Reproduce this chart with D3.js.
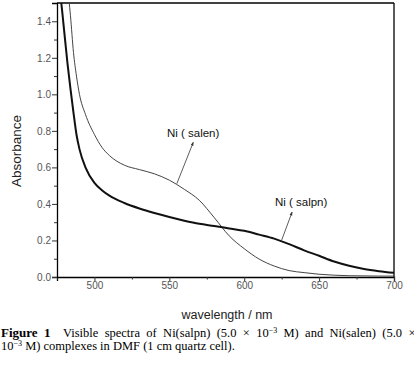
<!DOCTYPE html>
<html>
<head>
<meta charset="utf-8">
<script src="https://cdnjs.cloudflare.com/ajax/libs/d3/7.8.5/d3.min.js"></script>
<style>
  body { margin: 0; background: #fff; }
  svg { display: block; }
  .tick text { font-family: Arial, "Liberation Sans", sans-serif; font-size: 10px; fill: #555; }
</style>
</head>
<body>
<svg width="414" height="369"></svg>
<script>
// wavelength grid (nm)
const wavelength = [476, 478, 480, 482, 484, 486, 488, 490, 494, 500, 505, 510, 520, 530, 540, 550,
  560, 570, 580, 590, 600, 610, 620, 630, 640, 650, 660, 670, 680, 690, 700];
// Ni(salpn) absorbance, thick line
const salpn = [1.62, 1.49, 1.33, 1.17, 1.03, 0.90, 0.78, 0.70, 0.60, 0.515, 0.475, 0.445, 0.405, 0.375, 0.350, 0.328,
  0.308, 0.291, 0.279, 0.266, 0.253, 0.232, 0.210, 0.180, 0.146, 0.116, 0.085, 0.062, 0.044, 0.032, 0.023];
// Ni(salen) absorbance, thin line
const salen = [2.20, 2.00, 1.80, 1.60, 1.43, 1.23, 1.10, 1.00, 0.89, 0.78, 0.71, 0.665, 0.612, 0.588, 0.565, 0.530,
  0.480, 0.420, 0.325, 0.225, 0.155, 0.098, 0.060, 0.035, 0.024, 0.015, 0.010, 0.007, 0.006, 0.005, 0.005];

const xTicks = [500, 550, 600, 650, 700];
const xMinor = [475, 525, 575, 625, 675];
const yTicks = [0, 0.2, 0.4, 0.6, 0.8, 1.0, 1.2, 1.4];
const yMinor = [0.1, 0.3, 0.5, 0.7, 0.9, 1.1, 1.3];

// annotation text, where it sits, and its arrow (tip / end) in [nm, absorbance]
const labelNames = ['Ni ( salen)', 'Ni ( salpn)'];
const labelAt = [[548.4, 0.766], [620.5, 0.389]];
const arrowTips = [[566, 0.738], [632, 0.356]];
const arrowEnds = [[555, 0.511], [625, 0.202]];

const margin = {left: 57, top: 3};
const width = 337;
const height = 274;

const svg = d3.select('svg');
const chart = svg.append('g')
  .attr('transform', `translate(${margin.left}, ${margin.top})`);

const x = d3.scaleLinear().domain([475, 700]).range([0, width]);
const y = d3.scaleLinear().domain([0, 1.5]).range([height, 0]);

const defs = svg.append('defs');
defs.append('clipPath').attr('id', 'plot')
  .append('rect').attr('width', width).attr('height', height);
defs.append('marker')
  .attr('id', 'arrow')
  .attr('viewBox', '0 0 10 10')
  .attr('refX', 9).attr('refY', 5)
  .attr('markerWidth', 5).attr('markerHeight', 5)
  .attr('orient', 'auto')
  .append('path').attr('d', 'M0,1.5 L10,5 L0,8.5 Z').attr('fill', '#333');

// axes
chart.append('g')
  .attr('transform', `translate(0, ${height})`)
  .call(d3.axisBottom(x).tickValues(xTicks).tickSize(4).tickPadding(1));
chart.append('g')
  .attr('transform', `translate(0, ${height})`)
  .call(d3.axisBottom(x).tickValues(xMinor).tickSize(2.5).tickFormat(''))
  .select('.domain').remove();

chart.append('g')
  .call(d3.axisLeft(y).tickValues(yTicks).tickSize(5).tickPadding(1).tickFormat(d3.format('.1f')));
chart.append('g')
  .call(d3.axisLeft(y).tickValues(yMinor).tickSize(3).tickFormat(''))
  .select('.domain').remove();

chart.selectAll('.domain').attr('stroke', '#000').attr('stroke-width', 1.3);
chart.selectAll('.tick line').attr('stroke', '#333');

// frame top & right
chart.append('line').attr('x1', 0).attr('x2', width).attr('y1', 0).attr('y2', 0)
  .attr('stroke', '#000').attr('stroke-width', 1.3);
chart.append('line').attr('x1', width).attr('x2', width).attr('y1', 0).attr('y2', height)
  .attr('stroke', '#000').attr('stroke-width', 1.3);

// curves
const line = d3.line()
  .x(d => x(d[0]))
  .y(d => y(d[1]))
  .curve(d3.curveMonotoneX);

const curves = chart.append('g').attr('clip-path', 'url(#plot)');
curves.append('path')
  .datum(d3.zip(wavelength, salen))
  .attr('d', line)
  .attr('fill', 'none')
  .attr('stroke', '#444')
  .attr('stroke-width', 1);
curves.append('path')
  .datum(d3.zip(wavelength, salpn))
  .attr('d', line)
  .attr('fill', 'none')
  .attr('stroke', '#111')
  .attr('stroke-width', 2);

// labels with arrows
labelNames.forEach((name, i) => {
  chart.append('line')
    .attr('x1', x(arrowEnds[i][0])).attr('y1', y(arrowEnds[i][1]))
    .attr('x2', x(arrowTips[i][0])).attr('y2', y(arrowTips[i][1]))
    .attr('stroke', '#333').attr('stroke-width', 0.8)
    .attr('marker-end', 'url(#arrow)');
  chart.append('text')
    .attr('x', x(labelAt[i][0]))
    .attr('y', y(labelAt[i][1]))
    .attr('font-family', 'Arial, "Liberation Sans", sans-serif')
    .attr('font-size', 11.5)
    .attr('fill', '#111')
    .text(name);
});

// axis titles
svg.append('text')
  .attr('transform', 'translate(21, 151) rotate(-90)')
  .attr('text-anchor', 'middle')
  .attr('font-family', 'Arial, "Liberation Sans", sans-serif')
  .attr('font-size', 13.5)
  .attr('fill', '#222')
  .text('Absorbance');

svg.append('text')
  .attr('x', 227).attr('y', 319)
  .attr('text-anchor', 'middle')
  .attr('font-family', 'Arial, "Liberation Sans", sans-serif')
  .attr('font-size', 12.5)
  .attr('fill', '#222')
  .text('wavelength / nm');

// caption (first line justified)
const cap = svg.append('g')
  .attr('font-family', '"Liberation Serif", "DejaVu Serif", serif')
  .attr('font-size', 12.5)
  .attr('fill', '#000');
const l1 = cap.append('text').attr('x', 1).attr('y', 337).attr('word-spacing', 3.2);
l1.append('tspan').attr('font-weight', 'bold').attr('font-size', 13).text('Figure 1');
l1.append('tspan').text('\u00a0 Visible spectra of Ni(salpn) (5.0 \u00d7 10');
l1.append('tspan').attr('dy', -4.5).attr('font-size', 8).text('\u22123');
l1.append('tspan').attr('dy', 4.5).text(' M) and Ni(salen) (5.0 \u00d7');
const l2 = cap.append('text').attr('x', 1).attr('y', 350);
l2.append('tspan').text('10');
l2.append('tspan').attr('dy', -4.5).attr('font-size', 8).text('\u22123');
l2.append('tspan').attr('dy', 4.5).text('\u00a0M) complexes in DMF (1 cm quartz cell).');
</script>
</body>
</html>
